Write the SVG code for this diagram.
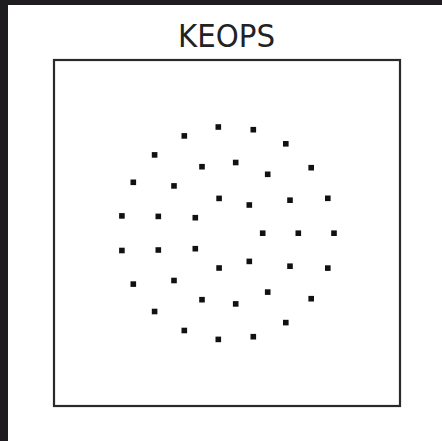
<svg xmlns="http://www.w3.org/2000/svg" width="442" height="441" viewBox="0 0 442 441">
<style>
.bg{fill:#1e1c1f}
.panel{fill:#ffffff}
.frame{fill:none;stroke:#2a2a2a;stroke-width:2.2}
.title{font-family:"DejaVu Sans",sans-serif;font-size:32px;fill:#222222;text-anchor:middle}
.dot{fill:#111111}
</style>
<defs>
<rect id="d" x="-2.8" y="-2.8" width="5.6" height="5.6" class="dot"/>
</defs>
<rect class="bg" x="0" y="0" width="442" height="441"/>
<rect class="panel" x="8" y="5" width="434" height="436"/>
<g id="title">
<text class="title" x="226.5" y="47.3" textLength="97" lengthAdjust="spacingAndGlyphs">KEOPS</text>
</g>
<g id="frame">
<rect class="frame" x="54" y="60" width="346" height="346"/>
</g>
<g id="dots">
<use href="#d" x="218.3" y="127"/>
<use href="#d" x="253.3" y="129.7"/>
<use href="#d" x="184.3" y="135.9"/>
<use href="#d" x="285.8" y="143.8"/>
<use href="#d" x="154.6" y="154.9"/>
<use href="#d" x="202" y="166.7"/>
<use href="#d" x="235.7" y="162.5"/>
<use href="#d" x="267.7" y="174.3"/>
<use href="#d" x="311.2" y="167.7"/>
<use href="#d" x="133.3" y="182.3"/>
<use href="#d" x="174" y="185.9"/>
<use href="#d" x="219.1" y="198.4"/>
<use href="#d" x="249.3" y="205"/>
<use href="#d" x="290" y="200.2"/>
<use href="#d" x="327.8" y="198.3"/>
<use href="#d" x="121.9" y="215.9"/>
<use href="#d" x="158.3" y="216.4"/>
<use href="#d" x="195.3" y="217.7"/>
<use href="#d" x="262.7" y="233.2"/>
<use href="#d" x="298.3" y="233.2"/>
<use href="#d" x="334" y="233.2"/>
<use href="#d" x="121.9" y="250.5"/>
<use href="#d" x="158.3" y="250"/>
<use href="#d" x="195.3" y="248.7"/>
<use href="#d" x="219.1" y="268"/>
<use href="#d" x="249.3" y="261.4"/>
<use href="#d" x="290" y="266.2"/>
<use href="#d" x="327.8" y="268.1"/>
<use href="#d" x="133.3" y="284.1"/>
<use href="#d" x="174" y="280.5"/>
<use href="#d" x="202" y="299.7"/>
<use href="#d" x="235.7" y="303.9"/>
<use href="#d" x="267.7" y="292.1"/>
<use href="#d" x="311.2" y="298.7"/>
<use href="#d" x="154.6" y="311.5"/>
<use href="#d" x="184.3" y="330.5"/>
<use href="#d" x="218.3" y="339.4"/>
<use href="#d" x="253.3" y="336.7"/>
<use href="#d" x="285.8" y="322.6"/>
</g>
</svg>
